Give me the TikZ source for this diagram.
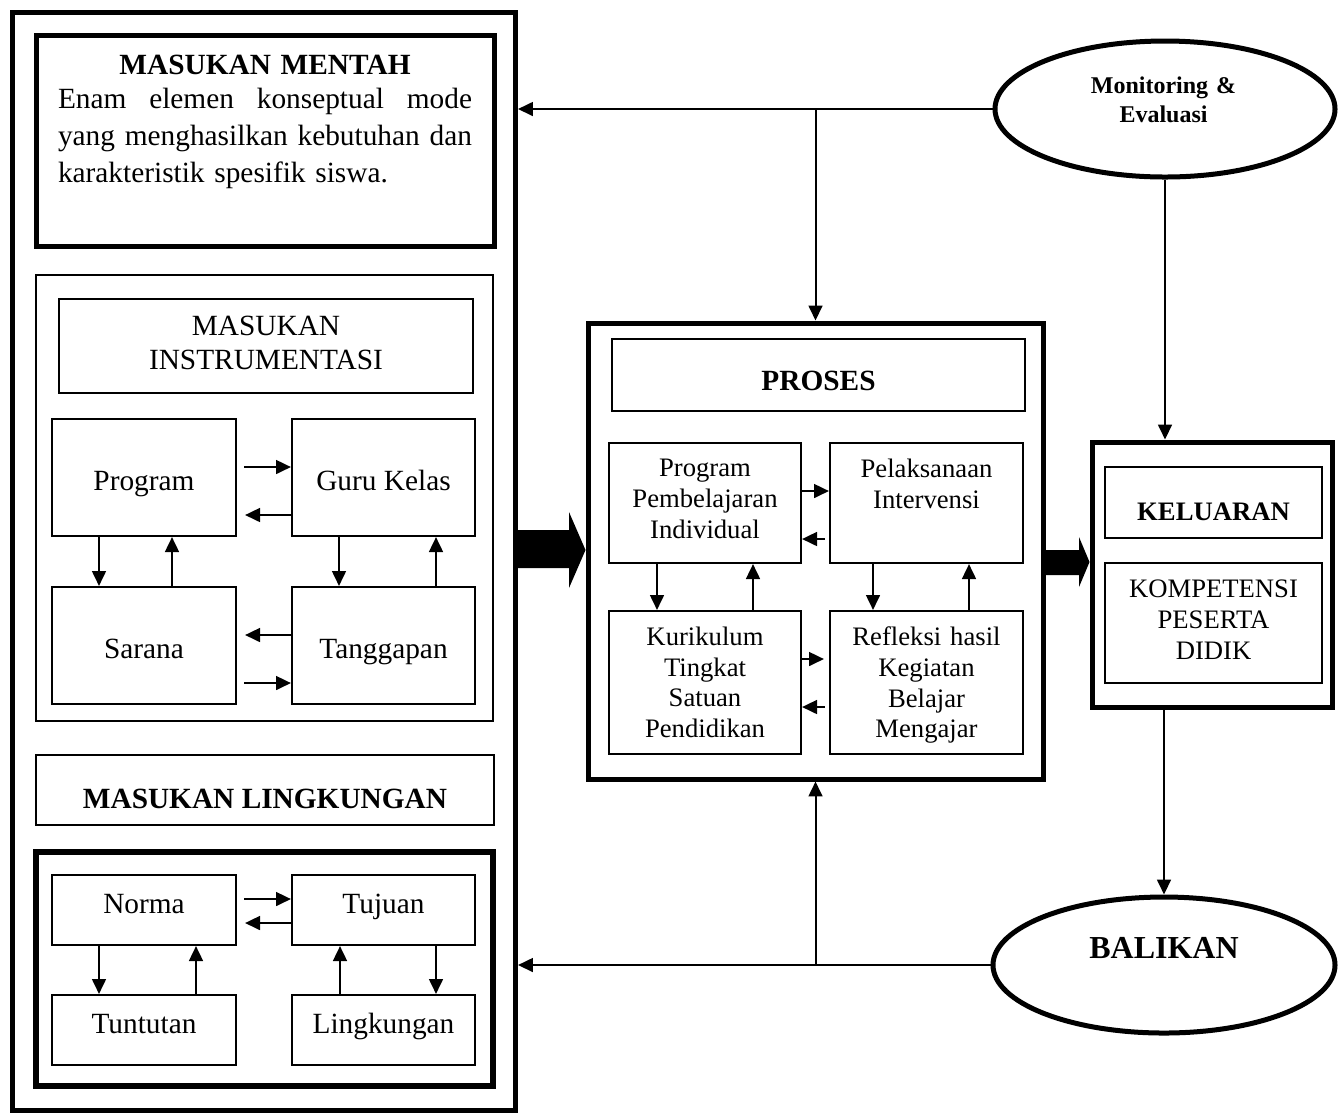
\documentclass[tikz,border=0pt]{standalone}
\usepackage{fontspec}
\setmainfont{Liberation Serif}
\usetikzlibrary{arrows.meta,shapes.geometric}
\newcommand\fsMentah{\fontsize{11}{13.9}\selectfont}
\newcommand\fsInstr{\fontsize{11}{13.1}\selectfont}
\newcommand\fsEleven{\fontsize{11}{13.2}\selectfont}
\newcommand\fsTen{\fontsize{10}{11.5}\selectfont}
\newcommand\fsKomp{\fontsize{10}{11.6}\selectfont}
\newcommand\fsMon{\fontsize{9}{10.9}\selectfont\bfseries}
\newcommand\fsBal{\fontsize{12}{14}\selectfont\bfseries}
\newcommand\fullline[1]{\leavevmode\hbox to 155.25pt{#1}}
\begin{document}
\begin{tikzpicture}[x=0.375pt,y=-0.375pt,
  kb/.style={draw, line width=1.875pt, inner sep=0pt},
  kbb/.style={draw, line width=2.2pt, inner sep=0pt},
  tb/.style={draw, line width=0.8pt, inner sep=0pt},
  sz/.style 2 args={minimum width={#1*0.375pt}, minimum height={#2*0.375pt}},
  el/.style={draw, ellipse, line width=1.875pt, inner sep=0pt},
  tx/.style={inner sep=0pt, outer sep=0pt},
  arr/.style={line width=0.75pt, -{Triangle[length=5.6pt,width=5.2pt]}},
  gs/.style={shorten <={#1*0.375pt}},
  ge/.style={shorten >={#1*0.375pt}}]
\useasboundingbox (0,0) rectangle (1343,1113);

% ---------- left column ----------
\node[kb, sz={503}{1098}] (outer) at (264,561) {};
\node[kb, sz={458}{211}] (mentah) at (265,140.5) {};
\node[tx, anchor=north, text width=155.25pt, align=left, font=\fsMentah] (mentahtxt) at (265,55.5)
  {\fullline{\hfil\bfseries MASUKAN MENTAH\hfil}\\[-1.5pt]%
   \fullline{Enam\hfill elemen\hfill konseptual\hfill mode}\\%
   \fullline{yang\hfill menghasilkan\hfill kebutuhan\hfill dan}\\%
   karakteristik spesifik siswa.};

\node[tb, sz={457}{446}] (instr) at (264.5,498) {};
\node[tb, sz={414}{94}] (instrtitle) at (266,346) {};
\node[tx, anchor=north, text width=150pt, align=center, font=\fsInstr] (instrtxt) at (266,315.6)
  {MASUKAN\\INSTRUMENTASI};

\node[tb, sz={184}{117}] (prog) at (144,477.5) {};
\node[tb, sz={183}{117}] (guru) at (383.5,477.5) {};
\node[tb, sz={184}{117}] (sarana) at (144,645.5) {};
\node[tb, sz={183}{117}] (tangg) at (383.5,645.5) {};
\node[tx, anchor=base, font=\fsEleven] (progtxt) at (144,490) {Program};
\node[tx, anchor=base, font=\fsEleven] (gurutxt) at (383.5,490) {Guru Kelas};
\node[tx, anchor=base, font=\fsEleven] (saranatxt) at (144,658) {Sarana};
\node[tx, anchor=base, font=\fsEleven] (tanggtxt) at (383.5,658) {Tanggapan};

\draw[arr, gs=7] (prog.east |- 0,467) -- (guru.west |- 0,467);
\draw[arr, ge=8] (guru.west |- 0,515) -- (prog.east |- 0,515);
\draw[arr, ge=8] (tangg.west |- 0,635) -- (sarana.east |- 0,635);
\draw[arr, gs=7] (sarana.east |- 0,683) -- (tangg.west |- 0,683);
\draw[arr] (prog.south -| 99,0) -- (sarana.north -| 99,0);
\draw[arr] (sarana.north -| 172,0) -- (prog.south -| 172,0);
\draw[arr] (guru.south -| 339,0) -- (tangg.north -| 339,0);
\draw[arr] (tangg.north -| 436,0) -- (guru.south -| 436,0);

\node[tb, sz={458}{70}] (lingtitle) at (265,790) {};
\node[tx, anchor=base, font=\fsEleven\bfseries] (lingtitletxt) at (265,808) {MASUKAN LINGKUNGAN};
\node[kbb, sz={457}{234}] (lingbox) at (264.5,969) {};
\node[tb, sz={184}{70}] (norma) at (144,910) {};
\node[tb, sz={183}{70}] (tujuan) at (383.5,910) {};
\node[tb, sz={184}{70}] (tuntutan) at (144,1030) {};
\node[tb, sz={183}{70}] (lingk) at (383.5,1030) {};
\node[tx, anchor=base, font=\fsEleven] (normatxt) at (144,913) {Norma};
\node[tx, anchor=base, font=\fsEleven] (tujuantxt) at (383.5,913) {Tujuan};
\node[tx, anchor=base, font=\fsEleven] (tuntutantxt) at (144,1033) {Tuntutan};
\node[tx, anchor=base, font=\fsEleven] (lingktxt) at (383.5,1033) {Lingkungan};

\draw[arr, gs=7] (norma.east |- 0,899) -- (tujuan.west |- 0,899);
\draw[arr, ge=8] (tujuan.west |- 0,923) -- (norma.east |- 0,923);
\draw[arr] (norma.south -| 99,0) -- (tuntutan.north -| 99,0);
\draw[arr] (tuntutan.north -| 196,0) -- (norma.south -| 196,0);
\draw[arr] (lingk.north -| 340,0) -- (tujuan.south -| 340,0);
\draw[arr] (tujuan.south -| 436,0) -- (lingk.north -| 436,0);

% ---------- process ----------
\node[kb, sz={455}{456}] (proses) at (815.5,551) {};
\node[tb, sz={413}{72}] (prosestitle) at (818.5,375) {};
\node[tx, anchor=base, font=\fsEleven\bfseries] (prosestxt) at (818.5,390) {PROSES};
\node[tb, sz={192}{120}] (ppi) at (705,503) {};
\node[tb, sz={193}{120}] (pelak) at (926.5,503) {};
\node[tb, sz={192}{143}] (kur) at (705,682.5) {};
\node[tb, sz={193}{143}] (refl) at (926.5,682.5) {};
\node[tx, anchor=north, text width=70pt, align=center, font=\fsTen] (ppitxt) at (705,459.5)
  {Program\\Pembelajaran\\Individual};
\node[tx, anchor=north, text width=70pt, align=center, font=\fsTen] (pelaktxt) at (926.5,459)
  {Pelaksanaan\\Intervensi};
\node[tx, anchor=north, text width=70pt, align=center, font=\fsTen] (kurtxt) at (705,627)
  {Kurikulum\\Tingkat\\Satuan\\Pendidikan};
\node[tx, anchor=north, text width=70pt, align=center, font=\fsTen] (refltxt) at (926.5,627)
  {Refleksi hasil\\Kegiatan\\Belajar\\Mengajar};

\draw[arr] (ppi.east |- 0,491) -- (pelak.west |- 0,491);
\draw[arr, gs=4] (pelak.west |- 0,539) -- (ppi.east |- 0,539);
\draw[arr, ge=5] (kur.east |- 0,659) -- (refl.west |- 0,659);
\draw[arr, gs=4] (refl.west |- 0,707) -- (kur.east |- 0,707);
\draw[arr] (ppi.south -| 657,0) -- (kur.north -| 657,0);
\draw[arr] (kur.north -| 753,0) -- (ppi.south -| 753,0);
\draw[arr] (pelak.south -| 873,0) -- (refl.north -| 873,0);
\draw[arr] (refl.north -| 969,0) -- (pelak.south -| 969,0);

% ---------- output ----------
\node[kb, sz={240}{265}] (keluaran) at (1212,574.5) {};
\node[tb, sz={217}{71}] (keltitle) at (1213.5,502.5) {};
\node[tx, anchor=base, font=\fsTen\bfseries] (keltxt) at (1213.5,520) {KELUARAN};
\node[tb, sz={217}{120}] (komp) at (1213.5,623) {};
\node[tx, anchor=north, text width=80pt, align=center, font=\fsKomp] (komptxt) at (1213.5,579.5)
  {KOMPETENSI\\PESERTA\\DIDIK};

% ---------- ellipses ----------
\node[el, sz={340}{136}] (monitor) at (1165,109) {};
\node[tx, anchor=north, text width=80pt, align=center, font=\fsMon] (montxt) at (1163.5,77)
  {Monitoring \&\\Evaluasi};
\node[el, sz={342}{136}] (balikan) at (1164,965) {};
\node[tx, anchor=base, font=\fsBal] (baltxt) at (1164,958) {BALIKAN};

% ---------- connectors ----------
\draw[arr] (monitor.west) -- (outer.east |- monitor.west);
\draw[arr] (proses.north |- monitor.west) -- (proses.north);
\draw[arr] (monitor.south) -- (monitor.south |- keluaran.north);
\draw[arr] (balikan.north |- keluaran.south) -- (balikan.north);
\draw[arr] (balikan.west) -- (outer.east |- balikan.west);
\draw[arr] (proses.south |- balikan.west) -- (proses.south);

% ---------- block arrows ----------
\fill (outer.east |- 0,530) -- (569,530) -- (569,512) -- (proses.west |- 0,550)
  -- (569,588) -- (569,568) -- (outer.east |- 0,568) -- cycle;
\fill (proses.east |- 0,550) -- (1079,550) -- (1079,537) -- (keluaran.west |- 0,562)
  -- (1079,587) -- (1079,575) -- (proses.east |- 0,575) -- cycle;
\end{tikzpicture}
\end{document}
